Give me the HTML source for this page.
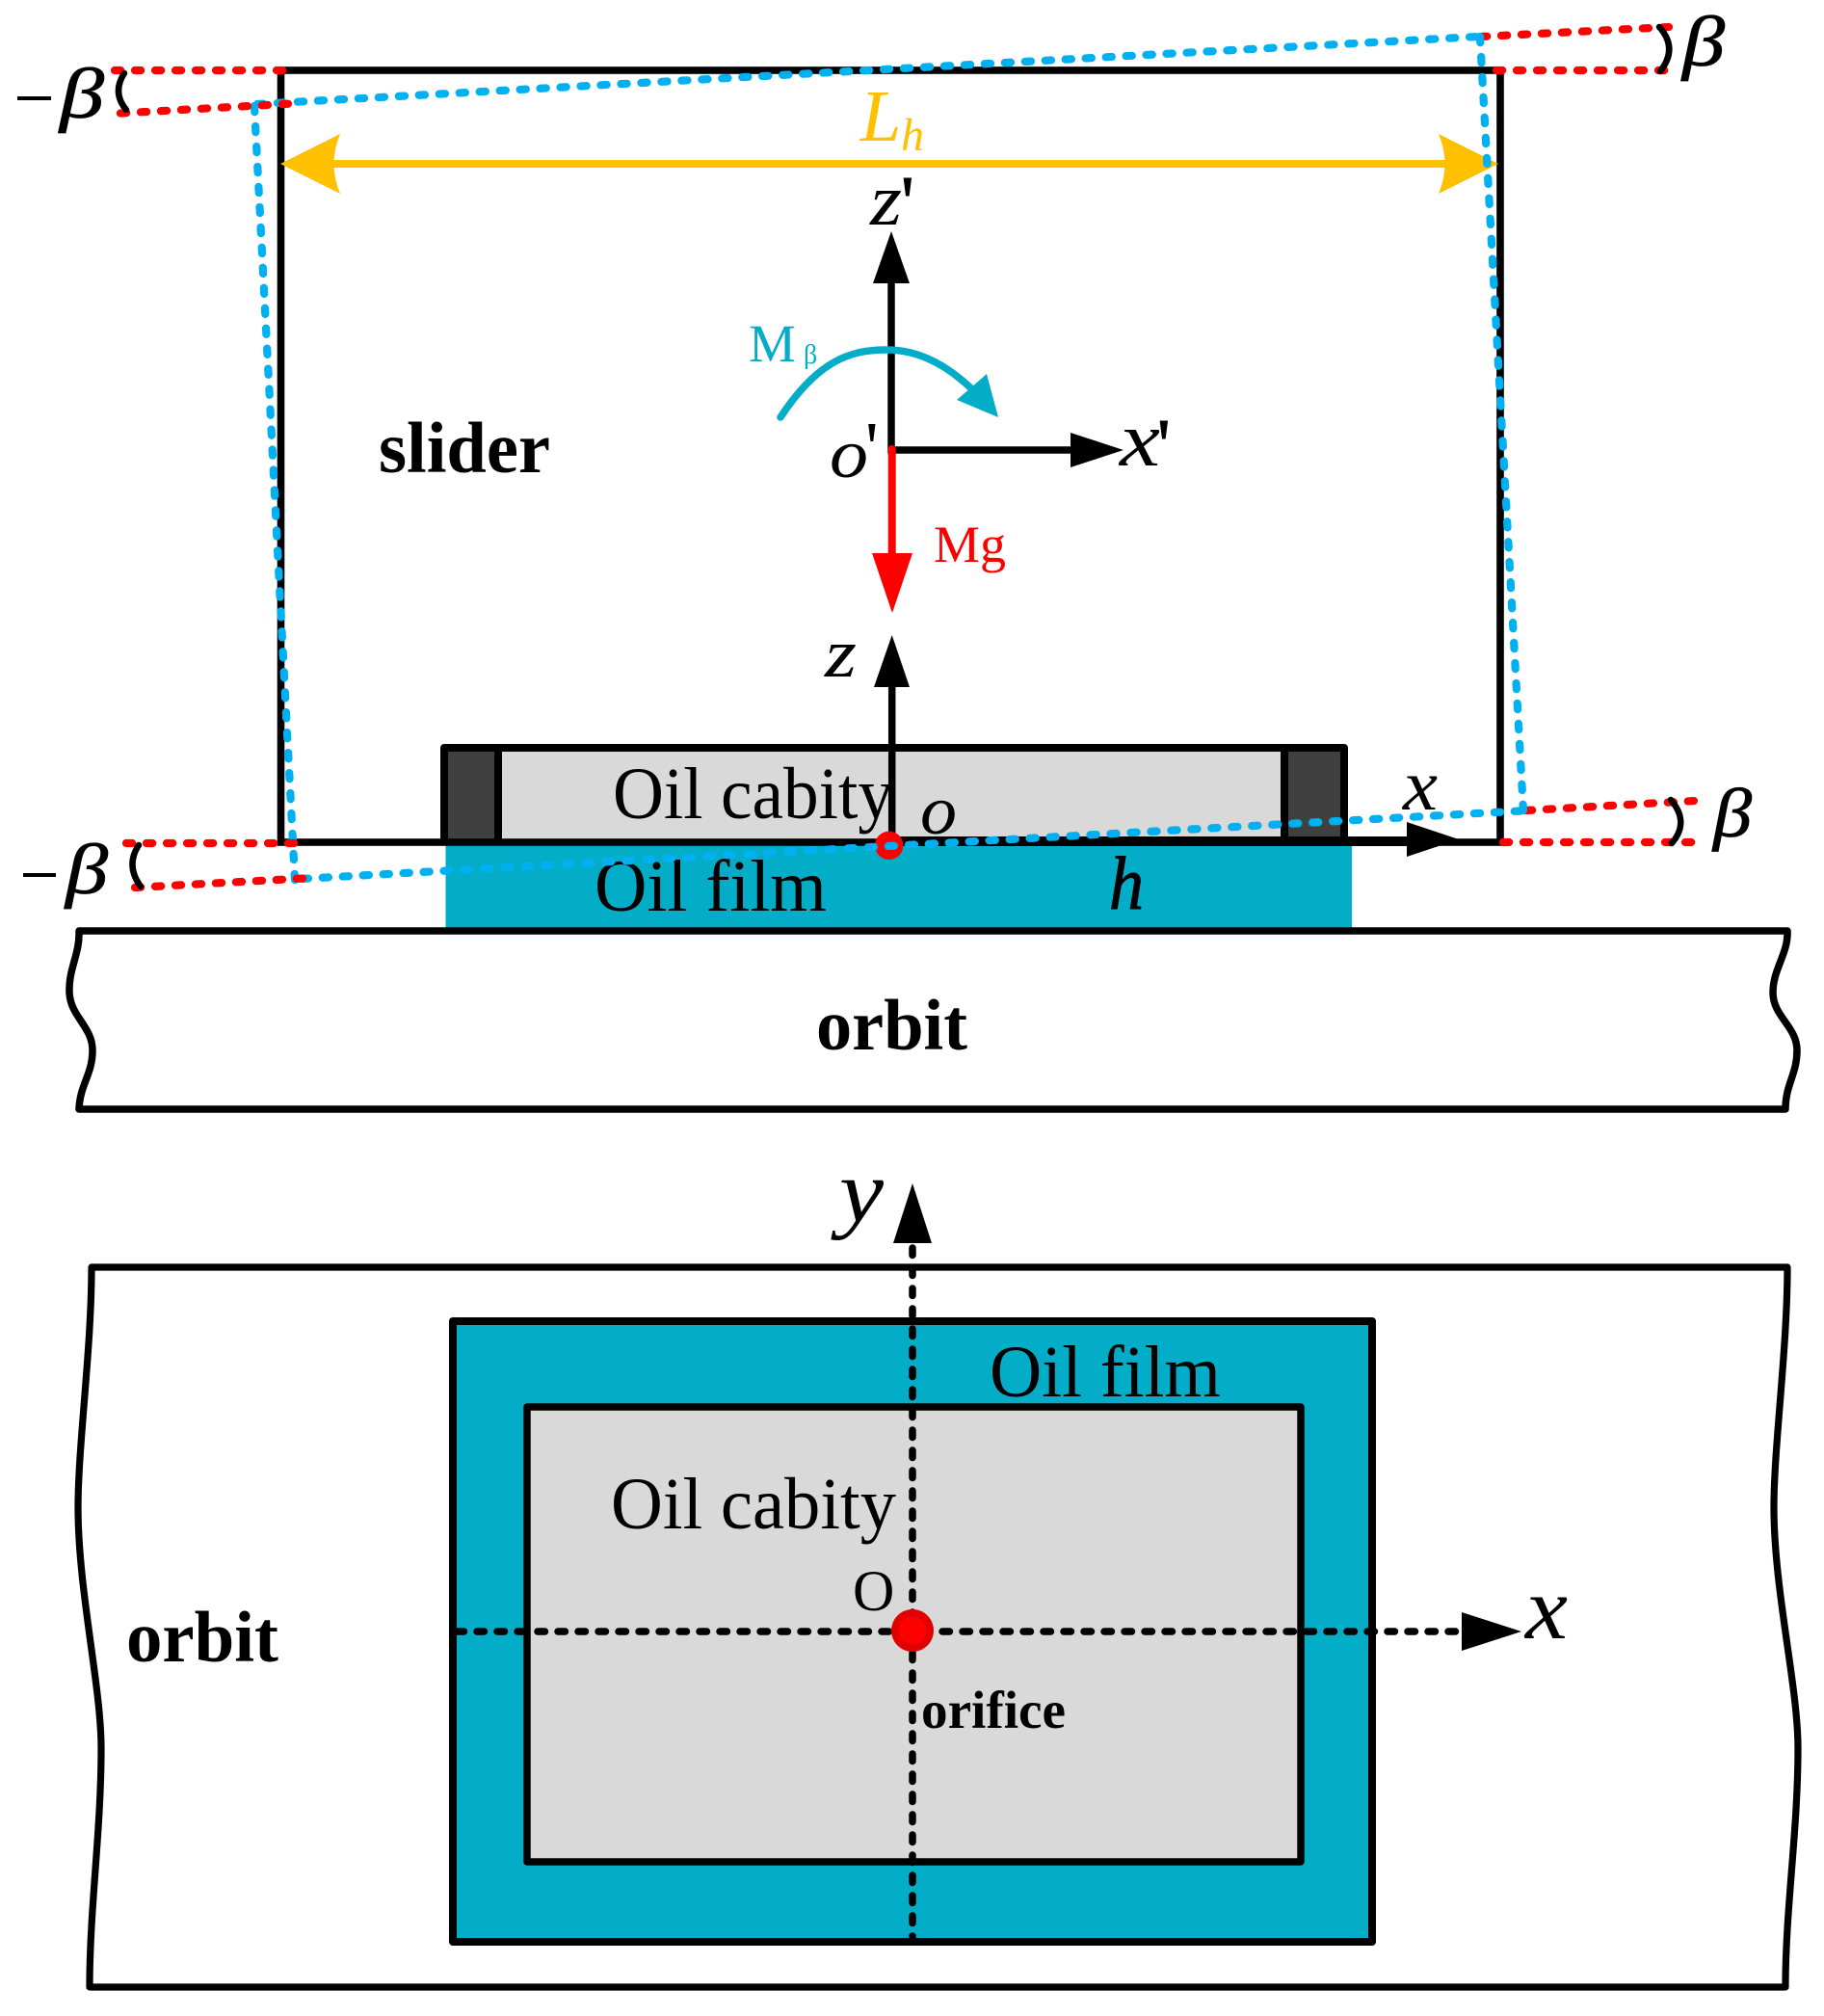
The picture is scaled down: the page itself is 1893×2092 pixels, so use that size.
<!DOCTYPE html>
<html><head><meta charset="utf-8"><style>
html,body{margin:0;padding:0;background:#fff}
svg{display:block}
text{font-family:"Liberation Serif",serif;fill:#000}
.i{font-style:italic}
.b{font-weight:bold}
.d{fill:none;stroke-width:8.2;stroke-linecap:round;stroke-dasharray:6.2 14.8}
.k{stroke-width:7.5;stroke-dasharray:7.5 13.5}
</style></head><body>
<svg width="1893" height="2092" viewBox="0 0 1893 2092" xmlns="http://www.w3.org/2000/svg">
<rect width="1893" height="2092" fill="#fff"/>

<!-- top figure: fills -->
<rect x="462.5" y="874" width="940.5" height="92" fill="#03adc7"/>
<rect x="461" y="776" width="934" height="98" fill="#d9d9d9"/>
<rect x="461" y="776" width="56" height="98" fill="#404040"/>
<rect x="1333" y="776" width="62" height="98" fill="#404040"/>
<path d="M461 874V776H1395V874M517 776V874M1333 776V874" fill="none" stroke="#000" stroke-width="8" stroke-linejoin="round"/>

<!-- slider -->
<rect x="291.5" y="73" width="1265.5" height="801" fill="none" stroke="#000" stroke-width="7.6"/>
<rect x="923" y="868" width="540" height="10" fill="#000"/>

<!-- orbit top -->
<path d="M82 966C83 990 71 1005 72 1030C73 1055 96 1065 96 1090C96 1115 83 1125 82 1151H1853C1853 1125 1865 1115 1865 1090C1865 1065 1840 1055 1840 1030C1840 1005 1856 990 1855 966Z" fill="none" stroke="#000" stroke-width="7.5" stroke-linejoin="round"/>

<!-- top labels under axes -->
<text x="636" y="849" font-size="76" textLength="291" lengthAdjust="spacingAndGlyphs">Oil cabity</text>
<text x="617" y="945" font-size="76" textLength="241" lengthAdjust="spacingAndGlyphs">Oil film</text>
<text class="i" x="1151" y="943" font-size="78" stroke="#000" stroke-width="1" textLength="36" lengthAdjust="spacingAndGlyphs">h</text>
<text class="b" x="393" y="490" font-size="75" textLength="178" lengthAdjust="spacingAndGlyphs">slider</text>
<text class="b" x="847" y="1089" font-size="75" textLength="157" lengthAdjust="spacingAndGlyphs">orbit</text>
<text class="i" x="955" y="865" font-size="72" textLength="38" lengthAdjust="spacingAndGlyphs">o</text>
<text class="i" x="1456" y="840" font-size="75" textLength="36" lengthAdjust="spacingAndGlyphs">x</text>

<!-- axes -->
<path d="M925 294V467H1115" fill="none" stroke="#000" stroke-width="7.5"/>
<path d="M925 240L944 294H906Z" fill="#000"/>
<path d="M1111 449L1166 467L1111 485Z" fill="#000"/>
<path d="M925.7 713V872" fill="none" stroke="#000" stroke-width="7.5"/>
<path d="M925.7 659L944 713H907Z" fill="#000"/>
<path d="M1460 853L1514 871L1460 889Z" fill="#000"/>

<!-- moment arc -->
<path d="M810 433C850 372 885 363 920 363C955 363 985 380 1013 408" fill="none" stroke="#03adc7" stroke-width="7.5" stroke-linecap="round"/>
<path d="M1036 433L1024 388L993 415Z" fill="#03adc7"/>

<!-- Mg -->
<path d="M925.7 466V576" fill="none" stroke="#f00" stroke-width="8" stroke-linecap="round"/>
<path d="M905 574H947L926 636Z" fill="#f00"/>

<!-- Lh arrow -->
<path d="M340 170H1510" stroke="#ffc000" stroke-width="8" fill="none"/>
<path d="M291 170L353 139Q340 170 353 201Z" fill="#ffc000"/>
<path d="M1555 170L1493 139Q1506 170 1493 201Z" fill="#ffc000"/>
<text class="i" x="893" y="146" font-size="76" style="fill:#ffc000">L</text>
<text class="i" x="935" y="156" font-size="48" style="fill:#ffc000">h</text>

<!-- axis labels -->
<text class="i" x="903" y="233" font-size="76" textLength="33" lengthAdjust="spacingAndGlyphs">z</text>
<text x="935" y="235" font-size="76" stroke="#000" stroke-width="1">'</text>
<text class="i" x="861" y="495" font-size="72" textLength="40" lengthAdjust="spacingAndGlyphs">o</text>
<text x="898" y="490" font-size="76">'</text>
<text class="i" x="1162" y="483" font-size="80" textLength="42" lengthAdjust="spacingAndGlyphs">x</text>
<text x="1201" y="487" font-size="76" stroke="#000" stroke-width="1">'</text>
<text class="i" x="856" y="702" font-size="72" textLength="33" lengthAdjust="spacingAndGlyphs">z</text>
<text x="777" y="375" font-size="55" style="fill:#03adc7">M</text>
<text x="834" y="377" font-size="28" style="fill:#03adc7">β</text>
<text x="969" y="583" font-size="54" style="fill:#f00">Mg</text>

<!-- red dashed lines, right -->
<path class="d" stroke="#f00" d="M1537 38L1733 28"/>
<path class="d" stroke="#f00" d="M1553 73H1732"/>
<path class="d" stroke="#f00" d="M1584 841L1759 831"/>
<path class="d" stroke="#f00" d="M1560 874H1759"/>

<circle cx="922.7" cy="877.3" r="14.7" fill="#f00"/>

<!-- rotated slider -->
<path class="d" stroke="#00b0f0" d="M267 108L1533 38"/>
<path class="d" stroke="#00b0f0" d="M1536 38L1581 842"/>
<path class="d" stroke="#00b0f0" d="M1578 841.5L312 912"/>
<path class="d" stroke="#00b0f0" d="M264 110L306 913"/>

<!-- red dashed lines, left -->
<path class="d" stroke="#f00" d="M119 73H297"/>
<path class="d" stroke="#f00" d="M125 117.5L312 107"/>
<path class="d" stroke="#f00" d="M131 875H306"/>
<path class="d" stroke="#f00" d="M140 921L324 911"/>

<!-- brackets -->
<g fill="none" stroke="#000" stroke-width="6.5" stroke-linecap="round">
<path d="M129 76Q116 96 131 114"/>
<path d="M144 877Q130 898 146 920"/>
<path d="M1722 28Q1742 50 1723 74"/>
<path d="M1734 830Q1754 853 1735 875"/>
</g>

<!-- beta labels -->
<text class="i" x="1746" y="68" font-size="74" stroke="#000" stroke-width="0.8" textLength="44" lengthAdjust="spacingAndGlyphs">β</text>
<text class="i" x="1778" y="868" font-size="72" stroke="#000" stroke-width="0.8" textLength="40" lengthAdjust="spacingAndGlyphs">β</text>
<rect x="18" y="100" width="35" height="4" fill="#000"/>
<text class="i" x="62" y="122" font-size="74" stroke="#000" stroke-width="0.8" textLength="46" lengthAdjust="spacingAndGlyphs">β</text>
<rect x="24" y="906" width="34" height="4" fill="#000"/>
<text class="i" x="68" y="927" font-size="74" stroke="#000" stroke-width="0.8" textLength="44" lengthAdjust="spacingAndGlyphs">β</text>

<!-- bottom figure -->
<path d="M95 1315C95 1400 81 1500 81 1564C81 1650 105 1750 105 1814C105 1900 93 1980 93 2062H1853C1853 1980 1866 1900 1866 1814C1866 1750 1841 1650 1841 1564C1841 1500 1855 1400 1855 1315Z" fill="none" stroke="#000" stroke-width="7.2" stroke-linejoin="round"/>
<rect x="470" y="1371" width="954" height="644" fill="#03adc7" stroke="#000" stroke-width="8" stroke-linejoin="round"/>
<rect x="547" y="1460" width="803" height="472" fill="#d9d9d9" stroke="#000" stroke-width="7.5" stroke-linejoin="round"/>

<text x="1027" y="1449" font-size="76" textLength="240" lengthAdjust="spacingAndGlyphs">Oil film</text>
<text x="634" y="1586" font-size="76" textLength="296" lengthAdjust="spacingAndGlyphs">Oil cabity</text>
<text x="885" y="1671" font-size="60">O</text>
<text class="b" x="956" y="1793" font-size="55" textLength="150" lengthAdjust="spacingAndGlyphs">orifice</text>
<text class="b" x="131" y="1724" font-size="75" textLength="158" lengthAdjust="spacingAndGlyphs">orbit</text>

<path class="d k" stroke="#000" d="M947 1295V2012"/>
<path class="d k" stroke="#000" d="M474 1693H1515"/>
<path d="M947 1228L967 1290H927Z" fill="#000"/>
<path d="M1517 1673L1579 1693L1517 1713Z" fill="#000"/>
<circle cx="947" cy="1692" r="22" fill="#e00000"/>
<circle cx="947" cy="1692" r="14.5" fill="#f00"/>
<text class="i" x="871" y="1267" font-size="92" textLength="46" lengthAdjust="spacingAndGlyphs">y</text>
<text class="i" x="1583" y="1700" font-size="92" textLength="44" lengthAdjust="spacingAndGlyphs">x</text>
</svg>
</body></html>
